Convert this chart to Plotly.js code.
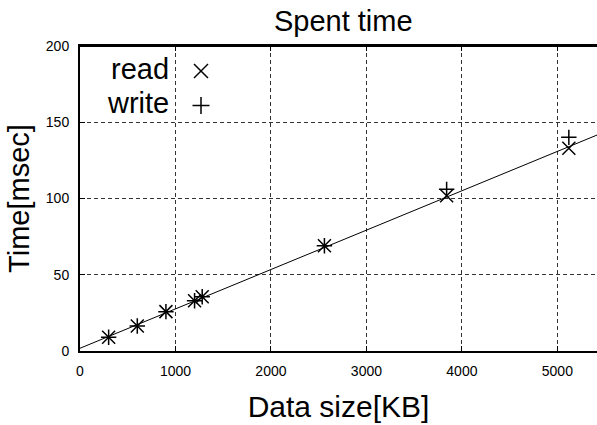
<!DOCTYPE html>
<html>
<head>
<meta charset="utf-8">
<script src="https://cdn.plot.ly/plotly-3.0.1.min.js"></script>
<style>html,body{margin:0;padding:0;background:#fff;}#chart{width:597px;height:425px;}</style>
</head>
<body>
<div id="chart"></div>
<script>
// Data
const dataSize  = [300, 600, 900, 1200, 1280, 2560, 3840, 5120];
const readTime  = [9.0, 16.4, 25.8, 33.0, 35.6, 69.0, 101.8, 132.9];
const writeTime = [9.0, 16.4, 25.8, 33.0, 35.6, 69.0, 106.0, 140.1];
const fitX = [0, 5415];
const fitY = [1.8, 141.6];
const xTicks = [0, 1000, 2000, 3000, 4000, 5000];
const yTicks = [0, 50, 100, 150, 200];
const legendNames = ['read', 'write'];

const FONT = 'Liberation Sans, Arial, sans-serif';

const traces = [
  {x: fitX, y: fitY, mode: 'lines', line: {color: '#000', width: 1}, showlegend: false, hoverinfo: 'skip'},
  {x: dataSize, y: readTime, name: legendNames[0], mode: 'markers',
   marker: {symbol: 'x-thin-open', size: 13, color: '#000', line: {color: '#000', width: 1.5}}, showlegend: false},
  {x: dataSize, y: writeTime, name: legendNames[1], mode: 'markers',
   marker: {symbol: 'cross-thin-open', size: 11, color: '#000', line: {color: '#000', width: 1.5}}, showlegend: false}
];

const axisCommon = {
  showline: true, linecolor: '#000', linewidth: 2,
  ticks: 'inside', ticklen: 5, tickcolor: '#000', tickwidth: 1,
  showgrid: true, gridcolor: '#333', gridwidth: 1, griddash: '4px,3px',
  zeroline: false,
  tickfont: {family: FONT, size: 14, color: '#000'}
};

// plot area: x 80..597 (517 px), y 46..351 (305 px)
const px = v => (v - 80) / 517;
const py = v => (351 - v) / 305;
const keyLine = (x0, y0, x1, y1) => ({type: 'line', xref: 'paper', yref: 'paper',
  x0: px(x0), y0: py(y0), x1: px(x1), y1: py(y1), line: {color: '#000', width: 1.5}});

const layout = {
  width: 597, height: 425,
  margin: {l: 80, r: 0, t: 46, b: 74},
  paper_bgcolor: '#fff', plot_bgcolor: '#fff',
  font: {family: FONT, color: '#000'},
  title: {text: 'Spent time', font: {family: FONT, size: 29, color: '#000'},
          xref: 'container', yref: 'container', x: 0.575, xanchor: 'center', y: 0.952, yanchor: 'middle'},
  xaxis: Object.assign({}, axisCommon, {
    range: [0, 5415], tickvals: xTicks, ticktext: xTicks.map(String), mirror: 'ticks',
    ticklabelstandoff: 6,
    title: {text: 'Data size[KB]', font: {family: FONT, size: 30, color: '#000'}, standoff: 18}
  }),
  yaxis: Object.assign({}, axisCommon, {
    range: [0, 200], tickvals: yTicks, ticktext: yTicks.map(String), mirror: false,
    ticklabelstandoff: 6,
    title: {text: 'Time[msec]', font: {family: FONT, size: 29, color: '#000'}, standoff: 8}
  }),
  shapes: [
    {type: 'line', xref: 'paper', yref: 'paper', x0: 0, x1: 1, y0: 1, y1: 1, line: {color: '#000', width: 2}},
    // legend keys: × for read, + for write
    keyLine(194, 64, 208, 78), keyLine(194, 78, 208, 64),
    keyLine(201, 97, 201, 114), keyLine(192.5, 105.5, 209.5, 105.5)
  ],
  annotations: [
    {xref: 'paper', yref: 'paper', x: px(171), y: py(69), xanchor: 'right', yanchor: 'middle',
     text: legendNames[0], showarrow: false, font: {family: FONT, size: 29, color: '#000'}},
    {xref: 'paper', yref: 'paper', x: px(171), y: py(103), xanchor: 'right', yanchor: 'middle',
     text: legendNames[1], showarrow: false, font: {family: FONT, size: 29, color: '#000'}}
  ]
};

Plotly.newPlot('chart', traces, layout, {staticPlot: true, displayModeBar: false});
</script>
</body>
</html>
